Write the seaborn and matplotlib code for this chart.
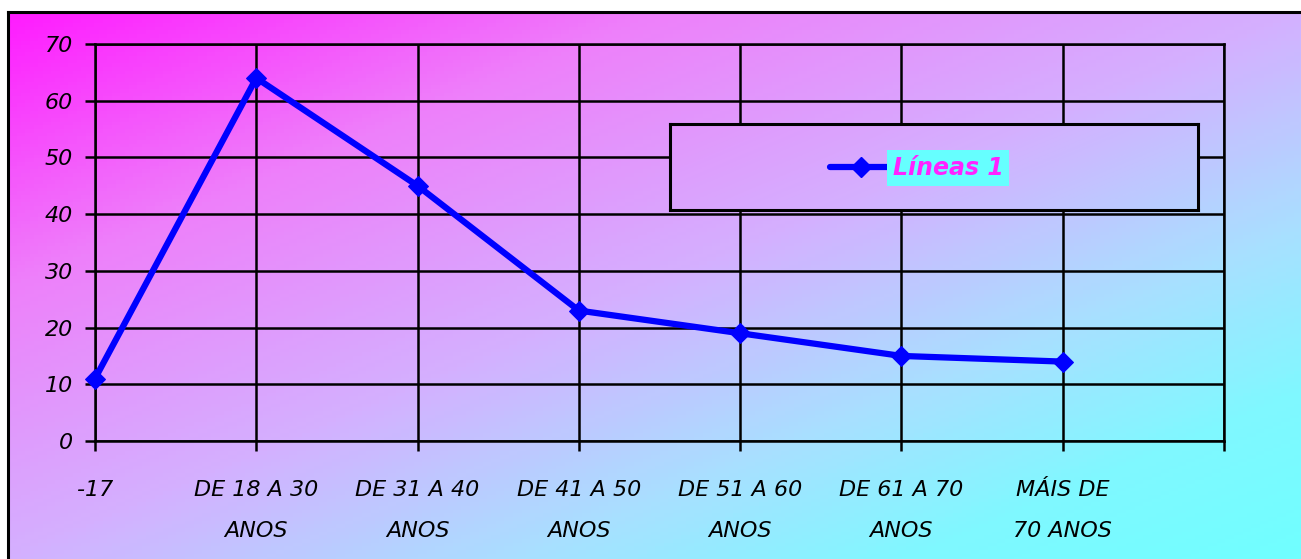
import numpy as np
import matplotlib
matplotlib.use("Agg")
import matplotlib.pyplot as plt
import seaborn as sns
from matplotlib.colors import LinearSegmentedColormap

# data
categories = ["-17", "DE 18 A 30\nANOS", "DE 31 A 40\nANOS", "DE 41 A 50\nANOS",
              "DE 51 A 60\nANOS", "DE 61 A 70\nANOS", "MÁIS DE\n70 ANOS"]
values = [11, 64, 45, 23, 19, 15, 14]
series_name = "Líneas 1"
y_ticks = [0, 10, 20, 30, 40, 50, 60, 70]

sns.set_style("white")
plt.rcParams["font.family"] = ["DejaVu Sans"]

W, H = 1301, 559
fig = plt.figure(figsize=(W / 100, H / 100), dpi=100)
fig.patch.set_facecolor("white")

cmap = LinearSegmentedColormap.from_list(
    "bg", [(0.0, "#FF1CFF"), (0.25, "#EE80FA"), (0.5, "#D4B0FF"),
           (0.7, "#A8E0FF"), (0.85, "#80F8FF"), (1.0, "#70FFFF")])


def gradient_axes(x0, y0, x1, y1, zorder):
    """Axes (pixel box, y from top) filled with the diagonal page gradient."""
    a = fig.add_axes([x0 / W, 1 - y1 / H, (x1 - x0) / W, (y1 - y0) / H],
                     zorder=zorder)
    px, py = np.meshgrid(np.linspace(x0, x1, 300), np.linspace(y0, y1, 150))
    t = 0.5 * (px - 8) / (W - 8) + 0.5 * (py - 12) / (H - 12)
    a.imshow(t, cmap=cmap, vmin=0, vmax=1, aspect="auto")
    a.set_xticks([])
    a.set_yticks([])
    for s in a.spines.values():
        s.set_color("black")
        s.set_linewidth(2.2)
    return a


bg = gradient_axes(8, 12, W + 2, H + 2, zorder=-5)

ax = fig.add_axes([95 / W, (H - 441) / H, (1224 - 95) / W, (441 - 44) / H])
ax.set_facecolor("none")

x = np.arange(len(categories))
sns.lineplot(x=x, y=values, ax=ax, color="#0000FF", linewidth=4.5,
             marker="D", markersize=10, markeredgecolor="#0000FF",
             label=series_name, legend=False, zorder=5, clip_on=False)

ax.set_xlim(0, len(categories))
ax.set_ylim(0, 70)
ax.set_yticks(y_ticks)
ax.set_xticks(np.arange(len(categories) + 1))
ax.set_xticklabels(categories + [""])
ax.grid(True, color="black", linewidth=1.8)
for s in ax.spines.values():
    s.set_color("black")
    s.set_linewidth(1.8)
ax.tick_params(axis="both", direction="out", length=7, width=1.8,
               colors="black", bottom=True, left=True, top=False, right=False)
ax.tick_params(axis="x", pad=21)
ax.tick_params(axis="y", pad=9)
for t in ax.get_xticklabels() + ax.get_yticklabels():
    t.set_fontstyle("italic")
    t.set_fontsize(16)
for t in ax.get_xticklabels():
    t.set_linespacing(2.35)

# legend box, filled with the same gradient so the grid does not show through
lg = gradient_axes(670, 124, 1198, 210, zorder=5)
lg.plot([], [], color="#0000FF", linewidth=4.5, marker="D", markersize=10,
        label=series_name)
leg = lg.legend(loc="center", bbox_to_anchor=(0.468, 0.49), frameon=False,
                handlelength=2.6, handletextpad=0.05,
                prop={"weight": "bold", "style": "italic", "size": 17})
for t in leg.get_texts():
    t.set_color("#FF22FF")
    t.set_bbox(dict(facecolor="#66FFFF", edgecolor="none", pad=4))

fig.savefig("out.png", dpi=100)
